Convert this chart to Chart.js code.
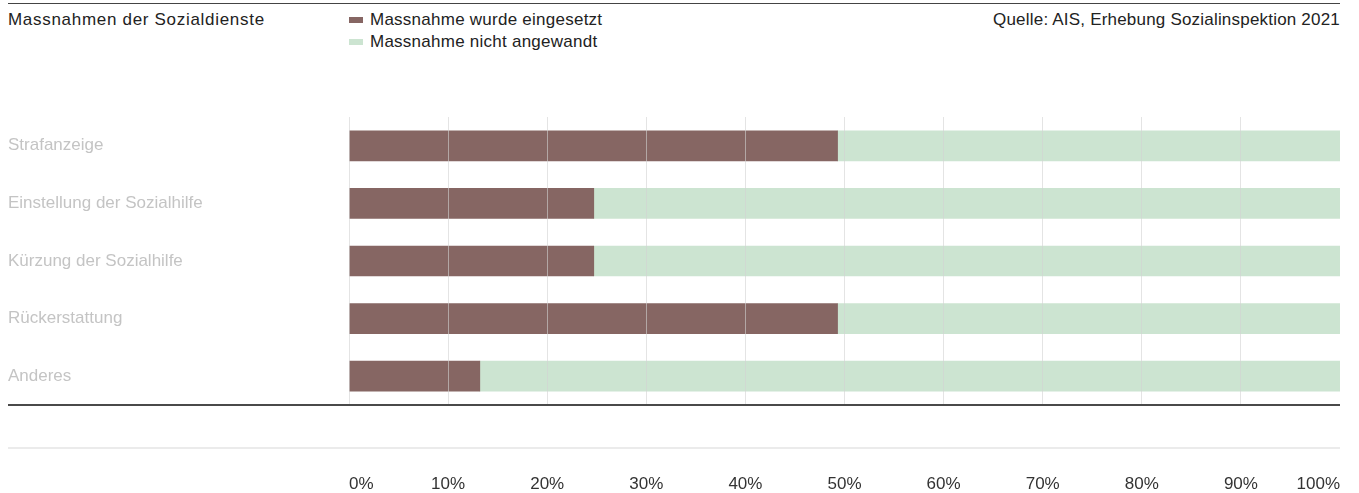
<!DOCTYPE html>
<html>
<head>
<meta charset="utf-8">
<script src="https://cdn.jsdelivr.net/npm/chart.js@4"></script>
<style>
  body {
    margin: 0;
    width: 1359px;
    height: 493px;
    background: #fff;
    font-family: 'Liberation Sans', Arial, sans-serif;
    color: #222;
    position: relative;
    overflow: hidden;
  }
  .rule {
    position: absolute;
    left: 8px;
    top: 3px;
    width: 1332px;
    height: 0;
    border-top: 1.5px solid #444;
  }
  .title {
    position: absolute;
    left: 8px;
    top: 9px;
    font-size: 17px;
    line-height: 22px;
    letter-spacing: 0.7px;
  }
  .source {
    position: absolute;
    right: 19px;
    top: 9px;
    font-size: 17px;
    line-height: 22px;
    letter-spacing: 0.2px;
  }
  .legend {
    position: absolute;
    left: 349px;
    top: 9px;
    font-size: 17px;
    line-height: 22px;
    letter-spacing: 0.25px;
  }
  .legend__item {
    display: flex;
    align-items: center;
  }
  .legend__box {
    width: 14px;
    height: 6px;
    margin-right: 7px;
  }
  .chart__wrap {
    position: absolute;
    left: 8px;
    top: 100px;
    width: 1332px;
    height: 393px;
  }
</style>
</head>
<body>
  <div class="rule"></div>
  <div class="title">Massnahmen der Sozialdienste</div>
  <div class="legend"></div>
  <div class="source">Quelle: AIS, Erhebung Sozialinspektion 2021</div>
  <div class="chart__wrap"><canvas id="myChart"></canvas></div>

<script>
const categories = [
  'Strafanzeige',
  'Einstellung der Sozialhilfe',
  'Kürzung der Sozialhilfe',
  'Rückerstattung',
  'Anderes'
]

const usedValues = [49.3, 24.7, 24.7, 49.3, 13.2]
const notUsedValues = [50.7, 75.3, 75.3, 50.7, 86.8]

const seriesNames = ['Massnahme wurde eingesetzt', 'Massnahme nicht angewandt']
const seriesColors = ['#866663', '#cce4d1']

const tickValues = [0, 10, 20, 30, 40, 50, 60, 70, 80, 90, 100]

// lines under the bars: dark axis line and the light line above the ticks
const axisLines = {
  id: 'axisLines',
  afterDraw(chart) {
    const ctx = chart.ctx
    const bottom = chart.chartArea.bottom
    const right = chart.chartArea.right

    ctx.save()
    ctx.strokeStyle = '#4a4a4a'
    ctx.lineWidth = 2
    ctx.beginPath()
    ctx.moveTo(0, bottom)
    ctx.lineTo(right, bottom)
    ctx.stroke()

    ctx.strokeStyle = '#ebebeb'
    ctx.lineWidth = 2
    ctx.beginPath()
    ctx.moveTo(0, bottom + 43)
    ctx.lineTo(right, bottom + 43)
    ctx.stroke()
    ctx.restore()
  }
}

const renderLegend = chart => {
  const legend = document.querySelector('.legend')
  let contentHtml = ''

  chart.data.datasets.forEach(item => {
    contentHtml += `
      <div class="legend__item">
        <span class="legend__box" style="background:${item.backgroundColor}"></span>
        <span>${item.label}</span>
      </div>
    `
  })

  legend.innerHTML = contentHtml
}

const chartMeasures = () => {
  const ctx = document.getElementById('myChart').getContext('2d')
  const data = {
    labels: categories,
    datasets: [
      {
        label: seriesNames[0],
        data: usedValues,
        backgroundColor: seriesColors[0],
        borderWidth: 0,
        barThickness: 30
      },
      {
        label: seriesNames[1],
        data: notUsedValues,
        backgroundColor: seriesColors[1],
        borderWidth: 0,
        barThickness: 30
      }
    ]
  }
  const config = {
    type: 'bar',
    data: data,
    plugins: [axisLines],
    options: {
      indexAxis: 'y',
      responsive: true,
      maintainAspectRatio: false,
      animation: false,
      layout: {
        padding: { top: 17, right: 0, bottom: 0, left: 0 }
      },
      plugins: {
        legend: { display: false },
        tooltip: { enabled: false }
      },
      scales: {
        x: {
          stacked: true,
          min: 0,
          max: 100,
          afterBuildTicks: scale => {
            scale.ticks = tickValues.map(v => ({ value: v }))
          },
          afterFit: scale => {
            scale.height = 88
          },
          grid: {
            // drawn over the bars, like in the original
            z: 1,
            color: 'rgba(210, 210, 210, 0.6)',
            lineWidth: 1,
            drawTicks: false
          },
          border: { display: false },
          ticks: {
            align: 'inner',
            padding: 0,
            color: '#333',
            // tall line height pushes the labels down below the light line
            font: { family: "'Liberation Sans', Arial, sans-serif", size: 17, lineHeight: '158px' },
            callback: value => value + '%'
          }
        },
        y: {
          stacked: true,
          afterFit: scale => {
            scale.width = 341
          },
          grid: { display: false },
          border: { display: false },
          ticks: {
            crossAlign: 'far',
            padding: 0,
            color: '#c4c4c4',
            font: { family: "'Liberation Sans', Arial, sans-serif", size: 17 }
          }
        }
      }
    }
  }

  const myChart = new Chart(ctx, config)
  renderLegend(myChart)
}

chartMeasures()
</script>
</body>
</html>
